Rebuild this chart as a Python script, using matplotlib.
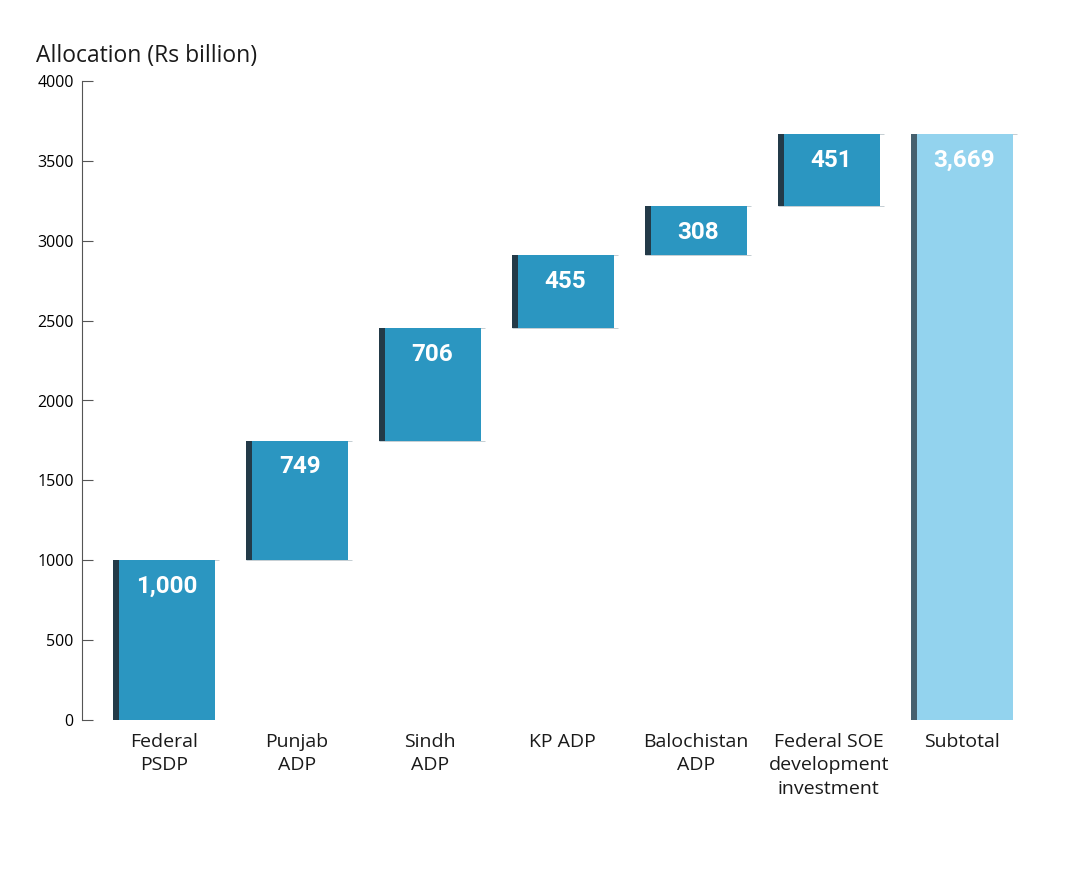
import numpy as np
import matplotlib.pyplot as plt

categories = ['Federal\nPSDP', 'Punjab\nADP', 'Sindh\nADP', 'KP ADP',
              'Balochistan\nADP', 'Federal SOE\ndevelopment\ninvestment', 'Subtotal']
values = [1000, 749, 706, 455, 308, 451]
total = 3669
value_labels = ['1,000', '749', '706', '455', '308', '451', '3,669']

plt.rcParams['font.family'] = ['Open Sans', 'DejaVu Sans']

BAR = '#2B96C1'
BAR_STRIP = '#233A48'
TOT = '#93D3EE'
TOT_STRIP = '#46606E'

fig = plt.figure(figsize=(10.81, 8.8), dpi=100)
ax = fig.add_axes([82 / 1081, 1 - 720 / 880, (1040 - 82) / 1081, (720 - 81) / 880])

x = np.arange(len(categories))
bottoms = np.concatenate([[0], np.cumsum(values)[:-1]])
heights = list(values) + [total]
bottoms = list(bottoms) + [0]
colors = [BAR] * len(values) + [TOT]
strips = [BAR_STRIP] * len(values) + [TOT_STRIP]

w = 0.767
sw = 0.045
for xi, b, h, c, s, lab in zip(x, bottoms, heights, colors, strips, value_labels):
    ax.bar(xi, h, bottom=b, width=w, color=c, edgecolor='none', zorder=2)
    ax.bar(xi - w / 2 + sw / 2, h, bottom=b, width=sw, color=s, edgecolor='none', zorder=3)
    # faint edge line at the base and top
    ax.hlines([b, b + h], xi - w / 2, xi + w / 2 + 0.03, color='#C5CED3', lw=0.7, zorder=1)
    ax.text(xi + 0.02, b + h - 165, lab, ha='center', va='center', color='white',
            fontsize=17.5, fontweight='bold', family=['Roboto', 'DejaVu Sans'])

ax.set_xlim(-0.617, 6.59)
ax.set_ylim(0, 4000)
ax.set_yticks(np.arange(0, 4001, 500))
ax.set_xticks(x)
ax.set_xticklabels(categories, fontsize=14, color='#1a1a1a', linespacing=1.42)
ax.tick_params(axis='x', length=0, pad=9)
ax.tick_params(axis='y', direction='in', length=8, width=0.8, color='#555555',
               labelsize=11.5, pad=6)
for sp in ['top', 'right', 'bottom']:
    ax.spines[sp].set_visible(False)
ax.spines['left'].set_color('#555555')
ax.spines['left'].set_linewidth(0.8)

fig.text(36 / 1081, 1 - 56 / 880, 'Allocation (Rs billion)', fontsize=16.5,
         color='#1a1a1a', va='center', ha='left')

fig.savefig('out.png', dpi=100)
